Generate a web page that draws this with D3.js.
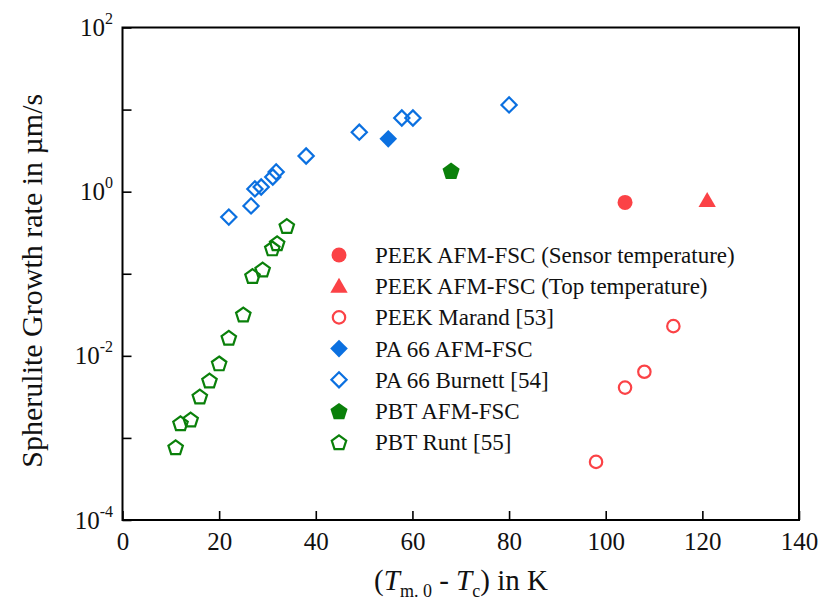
<!DOCTYPE html>
<html>
<head>
<meta charset="utf-8">
<script src="https://cdn.jsdelivr.net/npm/d3@7/dist/d3.min.js"></script>
<style>
  body { margin: 0; background: #fff; }
  svg { display: block; }
</style>
</head>
<body>
<svg id="chart" width="821" height="604"></svg>
<script>
// Undercooling (K) and spherulite growth rate (µm/s) for each data set
const peekSensorX = [104];
const peekSensorY = [0.74];
const peekTopX = [121];
const peekTopY = [0.78];
const peekMarandX = [98, 104, 108, 114];
const peekMarandY = [0.00051, 0.0041, 0.0064, 0.023];
const pa66AfmX = [55];
const pa66AfmY = [4.4];
const pa66BurnettX = [22, 26.6, 27.4, 28.7, 31.1, 31.8, 38, 49, 57.8, 60.1, 80];
const pa66BurnettY = [0.49, 0.67, 1.08, 1.14, 1.51, 1.74, 2.72, 5.3, 7.9, 7.9, 11.4];
const pbtAfmX = [68];
const pbtAfmY = [1.8];
const pbtRuntX = [34, 32, 31, 29, 26.9, 25, 22, 20, 18, 16, 14.1, 12, 11];
const pbtRuntY = [0.382, 0.235, 0.204, 0.113, 0.094, 0.032, 0.0166, 0.0081, 0.005, 0.0032, 0.00168, 0.00151, 0.00077];

const xTicks = [0, 20, 40, 60, 80, 100, 120, 140];
const yTicks = [1e-4, 1e-3, 1e-2, 1e-1, 1, 10, 100];
const yLabelExps = [-4, -2, 0, 2];

const RED = "#fb4246", BLUE = "#0b70e0", GREEN = "#0a800a";
const FONT = "'Liberation Serif', 'Times New Roman', serif";

const series = [
  { name: "PEEK AFM-FSC (Sensor temperature)", xs: peekSensorX, ys: peekSensorY, shape: "circle", r: 7.5, color: RED, filled: true },
  { name: "PEEK AFM-FSC (Top temperature)", xs: peekTopX, ys: peekTopY, shape: "triangle", r: 10, color: RED, filled: true },
  { name: "PEEK Marand [53]", xs: peekMarandX, ys: peekMarandY, shape: "circle", r: 6.2, color: RED, filled: false },
  { name: "PA 66 AFM-FSC", xs: pa66AfmX, ys: pa66AfmY, shape: "diamond", r: 8.8, color: BLUE, filled: true },
  { name: "PA 66 Burnett [54]", xs: pa66BurnettX, ys: pa66BurnettY, shape: "diamond", r: 7.6, color: BLUE, filled: false },
  { name: "PBT AFM-FSC", xs: pbtAfmX, ys: pbtAfmY, shape: "pentagon", r: 9, color: GREEN, filled: true },
  { name: "PBT Runt [55]", xs: pbtRuntX, ys: pbtRuntY, shape: "pentagon", r: 7.6, color: GREEN, filled: false }
];

const svg = d3.select("#chart");
const plotLeft = 122.5, plotRight = 799, plotTop = 27.5, plotBottom = 520;

const x = d3.scaleLinear().domain([0, 140]).range([plotLeft, plotRight]);
const y = d3.scaleLog().domain([1e-4, 100]).range([plotBottom, plotTop]);

function polygon(n, r, rot, dy) {
  const pts = d3.range(n).map(i => {
    const a = rot + i * 2 * Math.PI / n;
    return [r * Math.cos(a), r * Math.sin(a) + dy];
  });
  return "M" + pts.map(p => p.map(v => v.toFixed(2)).join(",")).join("L") + "Z";
}
function markPath(s) {
  switch (s.shape) {
    case "circle": return d3.symbol().type(d3.symbolCircle).size(Math.PI * s.r * s.r)();
    case "diamond": return polygon(4, s.r, -Math.PI / 2, 0);
    case "triangle": return polygon(3, s.r, -Math.PI / 2, s.r * 0.15);
    case "pentagon": return polygon(5, s.r, -Math.PI / 2, s.r * 0.1);
  }
}

// frame
svg.append("rect")
  .attr("x", plotLeft).attr("y", plotTop)
  .attr("width", plotRight - plotLeft).attr("height", plotBottom - plotTop)
  .attr("fill", "none").attr("stroke", "#000").attr("stroke-width", 2);

// x axis: inward ticks
const xAxis = d3.axisBottom(x).tickValues(xTicks).tickSize(-9).tickFormat(d3.format("d"));
const gx = svg.append("g").attr("transform", `translate(0,${plotBottom})`).call(xAxis);
gx.select(".domain").remove();
gx.selectAll(".tick line").attr("stroke", "#000").attr("stroke-width", 1.6);
gx.selectAll(".tick text")
  .attr("y", 30).attr("dy", null)
  .attr("font-size", 25).attr("font-family", FONT).attr("fill", "#111");

// y axis: inward ticks at every decade, labels every second decade
const yAxis = d3.axisLeft(y).tickValues(yTicks).tickSize(-9).tickFormat("");
const gy = svg.append("g").attr("transform", `translate(${plotLeft},0)`).call(yAxis);
gy.select(".domain").remove();
gy.selectAll(".tick line").attr("stroke", "#000").attr("stroke-width", 1.6);

const yl = svg.append("g").attr("font-family", FONT).attr("fill", "#111");
yLabelExps.forEach(e => {
  const t = yl.append("text")
    .attr("x", 113).attr("y", y(Math.pow(10, e)) + 8.5)
    .attr("text-anchor", "end").attr("font-size", 25);
  t.append("tspan").text("10");
  t.append("tspan").attr("font-size", 16).attr("dy", -12).text(String(e));
});

// axis titles
svg.append("text")
  .attr("transform", `translate(42,${(plotTop + plotBottom) / 2 + 7}) rotate(-90)`)
  .attr("text-anchor", "middle").attr("font-size", 30)
  .attr("font-family", FONT).attr("fill", "#111")
  .text("Spherulite Growth rate in µm/s");

const xt = svg.append("text")
  .attr("x", 461).attr("y", 590)
  .attr("text-anchor", "middle").attr("font-size", 29)
  .attr("font-family", FONT).attr("fill", "#111");
xt.append("tspan").text("(");
xt.append("tspan").attr("font-style", "italic").text("T");
xt.append("tspan").attr("font-size", 18).attr("dy", 7).text("m. 0");
xt.append("tspan").attr("dy", -7).text(" - ");
xt.append("tspan").attr("font-style", "italic").text("T");
xt.append("tspan").attr("font-size", 18).attr("dy", 7).text("c");
xt.append("tspan").attr("dy", -7).text(") in K");

// data marks
series.forEach(s => {
  const pts = s.xs.map((v, i) => [v, s.ys[i]]);
  svg.append("g").selectAll("path").data(pts).join("path")
    .attr("d", markPath(s))
    .attr("transform", d => `translate(${x(d[0])},${y(d[1])})`)
    .attr("fill", s.filled ? s.color : "none")
    .attr("stroke", s.color)
    .attr("stroke-width", s.filled ? 0 : 2.2);
});

// legend
const lg = svg.append("g").attr("transform", "translate(339,255)");
series.forEach((s, i) => {
  const row = lg.append("g").attr("transform", `translate(0,${i * 31.2})`);
  row.append("path")
    .attr("d", markPath(s))
    .attr("fill", s.filled ? s.color : "none")
    .attr("stroke", s.color)
    .attr("stroke-width", s.filled ? 0 : 2.2);
  row.append("text")
    .attr("x", 36).attr("y", 8)
    .attr("font-size", 23)
    .attr("font-family", FONT).attr("fill", "#111")
    .text(s.name);
});
</script>
</body>
</html>
